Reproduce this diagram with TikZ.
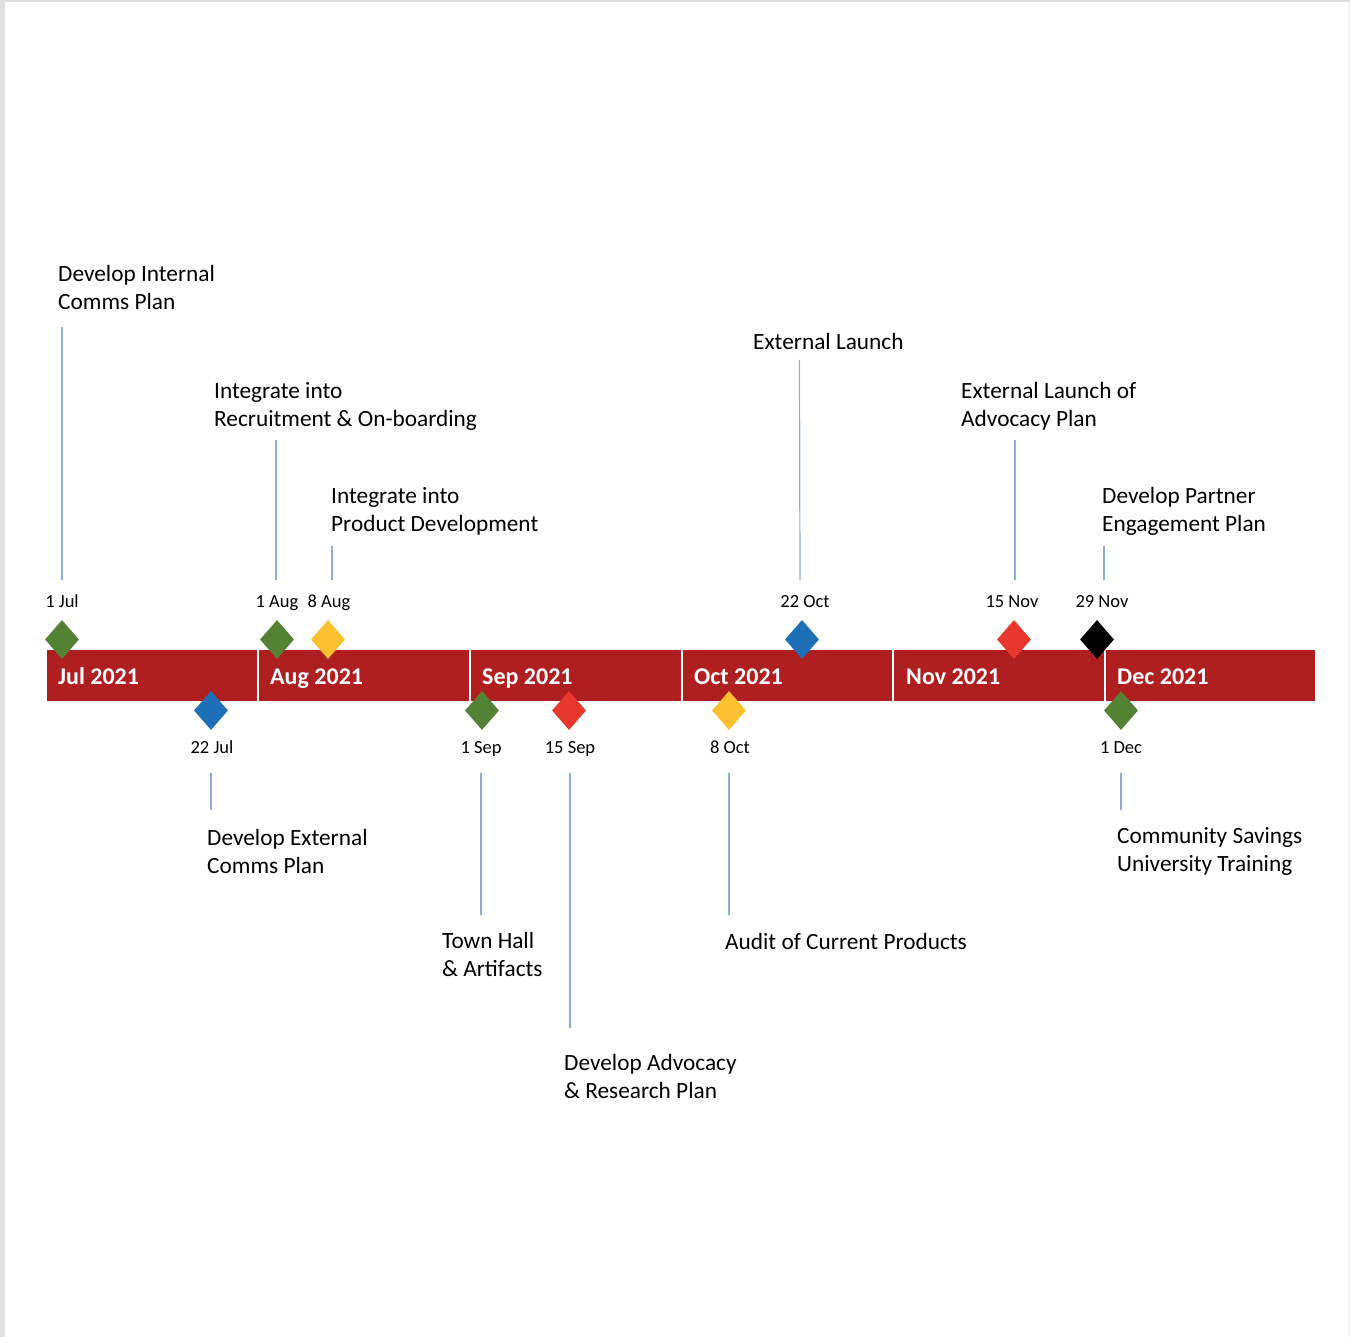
\documentclass[tikz,border=0pt]{standalone}
\usepackage{fontspec}
\setmainfont{Carlito}
\usetikzlibrary{shapes.geometric}
\definecolor{barred}{RGB}{176,31,32}
\definecolor{mgreen}{RGB}{84,130,53}
\definecolor{mblue}{RGB}{30,112,182}
\definecolor{myellow}{RGB}{251,192,46}
\definecolor{mred}{RGB}{232,56,46}
\definecolor{leader}{RGB}{143,170,220}
\definecolor{framegray}{RGB}{223,225,224}
\tikzset{
  seg/.style={fill=barred, draw=none, minimum height=51pt, inner sep=0pt},
  monthlbl/.style={anchor=base west, text=white, inner sep=0pt, font=\fontsize{24}{28}\selectfont\bfseries},
  ms/.style={diamond, fill=#1, draw=none, inner sep=0pt, minimum width=34pt, minimum height=39pt},
  datelbl/.style={anchor=base, inner sep=0pt, font=\fontsize{18.5}{22}\selectfont},
  evt/.style={anchor=west, align=left, inner sep=0pt, font=\fontsize{23.3}{28}\selectfont},
  lead/.style={draw=leader, line width=1.2pt}
}
\begin{document}
\begin{tikzpicture}[x=1pt,y=-1pt]
\useasboundingbox (0,0) rectangle (1350,1337);
\fill[framegray] (0,0) rectangle (1350,1337);
\fill[white] (5,2) rectangle (1348.5,1337);
% month segments
\node[seg, minimum width=210.3pt] (sJul) at (152.15,675) {};
\node[seg, minimum width=209.7pt] (sAug) at (364.15,675) {};
\node[seg, minimum width=209.5pt] (sSep) at (575.75,675) {};
\node[seg, minimum width=209.5pt] (sOct) at (787.25,675) {};
\node[seg, minimum width=209.5pt] (sNov) at (998.75,675) {};
\node[seg, minimum width=209.5pt] (sDec) at (1210.25,675) {};
\node[monthlbl] (mJul) at (58,684) {Jul 2021};
\node[monthlbl] (mAug) at (270,684) {Aug 2021};
\node[monthlbl] (mSep) at (482,684) {Sep 2021};
\node[monthlbl] (mOct) at (694,684) {Oct 2021};
\node[monthlbl] (mNov) at (906,684) {Nov 2021};
\node[monthlbl] (mDec) at (1117,684) {Dec 2021};
% milestones above
\node[ms=mgreen] (k1) at (62,639.5) {};
\node[ms=mgreen] (k3) at (277,639.5) {};
\node[ms=myellow] (k4) at (328,639.5) {};
\node[ms=mblue] (k8) at (802,639.5) {};
\node[ms=mred] (k9) at (1014,639.5) {};
\node[ms=black] (k10) at (1097,639.5) {};
% milestones below
\node[ms=mblue] (k2) at (211,710.5) {};
\node[ms=mgreen] (k5) at (482,710.5) {};
\node[ms=mred] (k6) at (569,710.5) {};
\node[ms=myellow] (k7) at (729,710.5) {};
\node[ms=mgreen] (k11) at (1121,710.5) {};
% date labels
\node[datelbl] (d1) at (62,607) {1 Jul};
\node[datelbl] (d3) at (277,607) {1 Aug};
\node[datelbl] (d4) at (329,607) {8 Aug};
\node[datelbl] (d8) at (805,607) {22 Oct};
\node[datelbl] (d9) at (1012,607) {15 Nov};
\node[datelbl] (d10) at (1102,607) {29 Nov};
\node[datelbl] (d2) at (212,753) {22 Jul};
\node[datelbl] (d5) at (481,753) {1 Sep};
\node[datelbl] (d6) at (570,753) {15 Sep};
\node[datelbl] (d7) at (730,753) {8 Oct};
\node[datelbl] (d11) at (1121,753) {1 Dec};
% event texts
\node[evt] (e1) at (58,287.5) {Develop Internal\\Comms Plan};
\node[evt] (e3) at (214,406.5) {Integrate into\\Recruitment \& On-boarding};
\node[evt] (e4) at (331,511.5) {Integrate into\\Product Development};
\node[evt] (e8) at (753,341) {External Launch};
\node[evt] (e9) at (961,406.5) {External Launch of\\Advocacy Plan};
\node[evt] (e10) at (1102,511.5) {Develop Partner\\Engagement Plan};
\node[evt] (e2) at (207,851.5) {Develop External\\Comms Plan};
\node[evt] (e5) at (442,954.5) {Town Hall\\\& Artifacts};
\node[evt] (e6) at (564,1076.5) {Develop Advocacy\\\& Research Plan};
\node[evt] (e7) at (725,941) {Audit of Current Products};
\node[evt] (e11) at (1117,851.5) {Community Savings\\University Training};
% leader lines
\coordinate (a1) at (62,327);   \coordinate (b1) at (62,580);
\coordinate (a3) at (276,440);  \coordinate (b3) at (276,580);
\coordinate (a4) at (332,546);  \coordinate (b4) at (332,580);
\coordinate (a8) at (799.5,360);\coordinate (b8) at (800,580);
\coordinate (a9) at (1015,440); \coordinate (b9) at (1015,580);
\coordinate (a10) at (1104,546);\coordinate (b10) at (1104,580);
\coordinate (a2) at (211,773);  \coordinate (b2) at (211,810);
\coordinate (a5) at (481,773);  \coordinate (b5) at (481,915);
\coordinate (a6) at (570,773);  \coordinate (b6) at (570,1028);
\coordinate (a7) at (729,773);  \coordinate (b7) at (729,915);
\coordinate (a11) at (1121,773);\coordinate (b11) at (1121,810);
\foreach \i in {1,2,3,4,5,6,7,8,9,10,11} {\draw[lead] (a\i) -- (b\i);}
\end{tikzpicture}
\end{document}
